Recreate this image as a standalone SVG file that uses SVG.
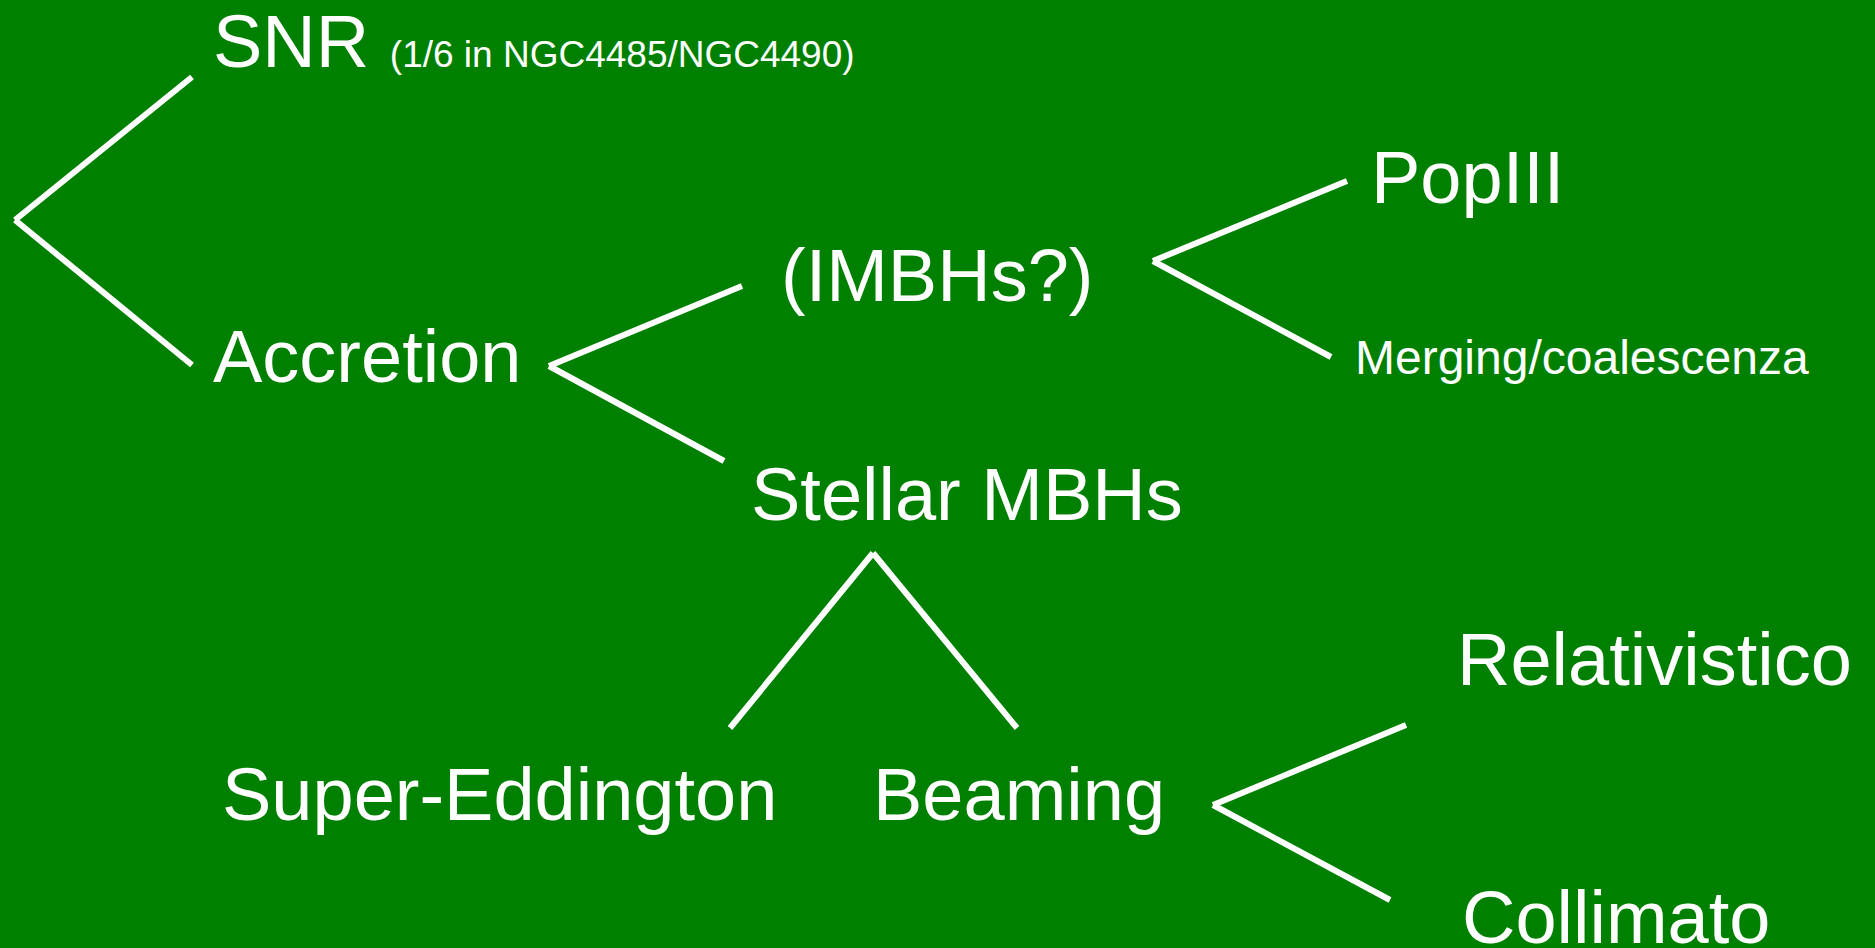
<svg xmlns="http://www.w3.org/2000/svg" width="1875" height="948" viewBox="0 0 1875 948">
<style>
.t{font-family:"Liberation Sans",Arial,sans-serif;fill:#ffffff;font-size:74px}
.s{font-size:37px}
.m{font-size:48px}
.c line{stroke:#ffffff;stroke-width:6;stroke-linecap:butt}
</style>
<rect width="1875" height="948" fill="#008000"/>
<g id="connectors" class="c">
<line x1="15" y1="220" x2="192" y2="77"/>
<line x1="15" y1="220" x2="192" y2="365"/>
<line x1="549" y1="366" x2="742" y2="286"/>
<line x1="549" y1="366" x2="724" y2="461"/>
<line x1="1153" y1="261" x2="1347" y2="181"/>
<line x1="1153" y1="261" x2="1331" y2="357"/>
<line x1="873" y1="553" x2="730" y2="728"/>
<line x1="873" y1="553" x2="1017" y2="728"/>
<line x1="1213" y1="805" x2="1406" y2="725"/>
<line x1="1213" y1="805" x2="1390" y2="900"/>
</g>
<g id="snr"><text class="t" x="213" y="67">SNR <tspan class="s">(1/6 in NGC4485/NGC4490)</tspan></text></g>
<g id="accretion"><text class="t" x="213" y="382">Accretion</text></g>
<g id="imbhs"><text class="t" x="781" y="301">(IMBHs?)</text></g>
<g id="popiii"><text class="t" x="1371" y="203">PopIII</text></g>
<g id="merging"><text class="t m" x="1355" y="374">Merging/coalescenza</text></g>
<g id="stellar"><text class="t" x="751" y="520">Stellar MBHs</text></g>
<g id="supered"><text class="t" x="222" y="820">Super-Eddington</text></g>
<g id="beaming"><text class="t" x="873" y="820">Beaming</text></g>
<g id="relativistico"><text class="t" x="1457" y="685">Relativistico</text></g>
<g id="collimato"><text class="t" x="1462" y="943">Collimato</text></g>
</svg>
